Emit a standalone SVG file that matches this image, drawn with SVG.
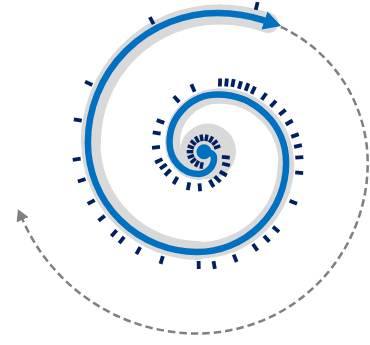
<svg xmlns="http://www.w3.org/2000/svg" xmlns:xlink="http://www.w3.org/1999/xlink" width="370" height="345" viewBox="0 0 370 345">
<style>
.band{fill:none;stroke:#d9d9d9;stroke-linecap:round}
.blue{fill:none;stroke:#0070c0;stroke-width:6.5}
.dash{fill:none;stroke:#7f7f7f;stroke-width:2.5;stroke-dasharray:7.5 4}
.tk{fill:#002060}
</style>
<defs>
<rect id="t" class="tk" x="-4" y="-1.9" width="8" height="3.8"/>
<rect id="s" class="tk" x="-3.3" y="-1.7" width="6.6" height="3.4"/>
<marker id="ab" markerUnits="userSpaceOnUse" markerWidth="18" markerHeight="20" viewBox="0 0 18 20" refX="0.5" refY="10" orient="auto">
<path d="M0,0.5 L17.5,10 L0,19.5 Z" fill="#0070c0"/>
</marker>
<marker id="ag" markerUnits="userSpaceOnUse" markerWidth="12" markerHeight="13" viewBox="0 0 12 13" refX="0.5" refY="6.5" orient="auto">
<path d="M0,0 L11.5,6.5 L0,13 Z" fill="#7f7f7f"/>
</marker>
</defs>
<g id="underlay">
<circle cx="208" cy="151.5" r="28" fill="#d9d9d9"/>
<g transform="translate(1.5 0)">
<path class="band" stroke-width="15" d="M198 172.5 A27 29.9 0 0 1 171 142.6"/>
<path class="band" stroke-width="15" d="M171 142.6 A46.6 46.6 0 0 1 217.6 96"/>
<path class="band" stroke-width="15.5" d="M217.6 96 A67 67 0 0 1 284.6 163"/>
<path class="band" stroke-width="16.5" d="M284.6 163 A87.4 87.4 0 0 1 197.2 250.4"/>
<path class="band" stroke-width="19" d="M197.2 250.4 A107.8 107.8 0 0 1 89.4 142.6"/>
<path class="band" stroke-width="20" d="M89.4 142.6 A128.2 128.2 0 0 1 217.6 14.4"/>
<path class="band" stroke-width="20" stroke-linecap="butt" d="M217.6 14.4 A148.6 148.6 0 0 1 267 23"/>
</g>
</g>
<g id="connectors">
<path id="spiral" class="blue" marker-end="url(#ab)" d="M204 151.7 C210 151.7 214 154 214 158 A15.5 16 0 0 1 198.5 174 A29 31.4 0 0 1 169.5 142.6 A48.1 48.1 0 0 1 217.6 94.5 A68.5 68.5 0 0 1 286.1 163 A88.9 88.9 0 0 1 197.2 251.9 A109.3 109.3 0 0 1 87.9 142.6 A129.7 129.7 0 0 1 217.6 12.9 A150.1 150.1 0 0 1 265 20.6"/>
<path id="return" class="dash" marker-end="url(#ag)" d="M280.8 26.9 A150.1 150.1 0 0 1 367.7 163 A170.5 170.5 0 0 1 197.2 333.5 A190.9 190.9 0 0 1 22.4 219.3"/>
</g>
<g id="core">
<circle cx="204" cy="151.7" r="7.5" fill="#0070c0"/>
</g>
<g id="ring-ticks">
<g transform="translate(204 151.7)">
<use href="#s" transform="rotate(100) translate(14 0)"/>
<use href="#s" transform="rotate(120) translate(14 0)"/>
<use href="#s" transform="rotate(140) translate(14 0)"/>
<use href="#s" transform="rotate(160) translate(14 0)"/>
<use href="#s" transform="rotate(180) translate(14 0)"/>
<use href="#s" transform="rotate(200) translate(14 0)"/>
<use href="#s" transform="rotate(220) translate(14 0)"/>
<use href="#s" transform="rotate(240) translate(14 0)"/>
<use href="#s" transform="rotate(260) translate(14 0)"/>
<use href="#s" transform="rotate(280) translate(14 0)"/>
<use href="#s" transform="rotate(300) translate(14 0)"/>
<use href="#s" transform="rotate(320) translate(14 0)"/>
<use href="#s" transform="rotate(340) translate(14 0)"/>
</g>
</g>
<g id="ticks">
<use href="#t" transform="translate(225.8 157.3) rotate(5)"/>
<use href="#t" transform="translate(226 164.5) rotate(15)"/>
<use href="#t" transform="translate(223.3 173.5) rotate(30)"/>
<use href="#t" transform="translate(217.5 179.2) rotate(45)"/>
<use href="#t" transform="translate(211.7 183.5) rotate(60)"/>
<use href="#t" transform="translate(199.8 187.3) rotate(85)"/>
<use href="#t" transform="translate(188.5 186.3) rotate(101)"/>
<use href="#t" transform="translate(175.5 180.5) rotate(120)"/>
<use href="#t" transform="translate(167.8 172.5) rotate(134)"/>
<use href="#t" transform="translate(163.3 166.5) rotate(145)"/>
<use href="#t" transform="translate(158.8 160.8) rotate(155)"/>
<use href="#t" transform="translate(156 147.3) rotate(173)"/>
<use href="#t" transform="translate(156.7 133) rotate(189)"/>
<use href="#t" transform="translate(160.5 121.5) rotate(200)"/>
<use href="#t" transform="translate(176.5 99.2) rotate(227)"/>
<use href="#t" transform="translate(193 88) rotate(246)"/>
<use href="#t" transform="translate(220 82.5) rotate(272)"/>
<use href="#t" transform="translate(226.5 82.5) rotate(276)"/>
<use href="#t" transform="translate(233 83) rotate(281)"/>
<use href="#t" transform="translate(240 85) rotate(286)"/>
<use href="#t" transform="translate(247 87) rotate(291)"/>
<use href="#t" transform="translate(253.3 90.3) rotate(296)"/>
<use href="#t" transform="translate(264 96.5) rotate(305)"/>
<use href="#t" transform="translate(273.3 103.7) rotate(313)"/>
<use href="#t" transform="translate(282.5 112.3) rotate(322)"/>
<use href="#t" transform="translate(289.2 122.5) rotate(330)"/>
<use href="#t" transform="translate(295 135.5) rotate(340)"/>
<use href="#t" transform="translate(298 146) rotate(348)"/>
<use href="#t" transform="translate(299.3 157.3) rotate(356)"/>
<use href="#t" transform="translate(299.2 172.7) rotate(5)"/>
<use href="#t" transform="translate(293.3 202.2) rotate(22)"/>
<use href="#t" transform="translate(276 229.3) rotate(40)"/>
<use href="#t" transform="translate(266.7 238.8) rotate(47)"/>
<use href="#t" transform="translate(255.2 247.3) rotate(55)"/>
<use href="#t" transform="translate(235.2 258.3) rotate(68)"/>
<use href="#t" transform="translate(214.2 265) rotate(80)"/>
<use href="#t" transform="translate(198.7 265) rotate(89)"/>
<use href="#t" transform="translate(161.7 260) rotate(107)"/>
<use href="#t" transform="translate(138.3 250.7) rotate(119)"/>
<use href="#t" transform="translate(121.7 240) rotate(128)"/>
<use href="#t" transform="translate(114 233.3) rotate(132)"/>
<use href="#t" transform="translate(101.7 218.3) rotate(142)"/>
<use href="#t" transform="translate(91.2 202) rotate(151)"/>
<use href="#t" transform="translate(81.7 180.3) rotate(162)"/>
<use href="#t" transform="translate(76.7 159.3) rotate(172)"/>
<use href="#t" transform="translate(77.8 120) rotate(189)"/>
<use href="#t" transform="translate(88.7 83.3) rotate(205)"/>
<use href="#t" transform="translate(151.7 20.7) rotate(242)"/>
<use href="#t" transform="translate(256.7 6) rotate(284)"/>
</g>
</svg>
